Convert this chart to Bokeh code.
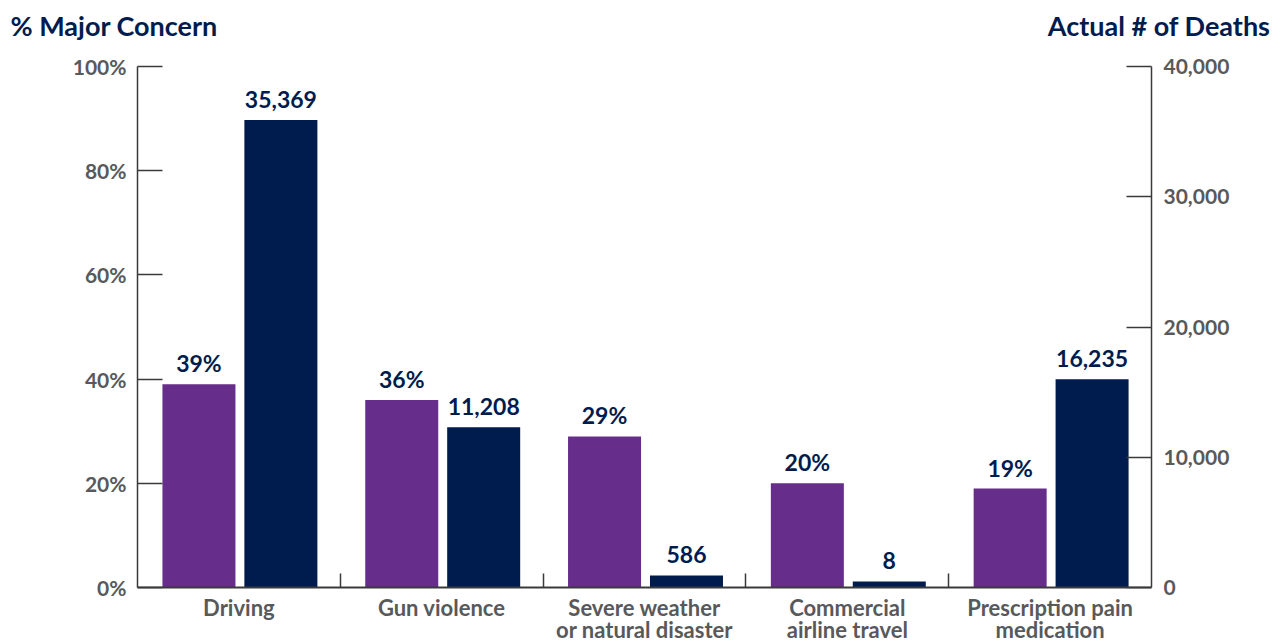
from bokeh.plotting import figure
from bokeh.models import (Range1d, LinearAxis, FixedTicker, PrintfTickFormatter,
                          NumeralTickFormatter, ColumnDataSource)
from bokeh.core.properties import value
from bokeh.embed import file_html
from bokeh.resources import INLINE

# ---- data ----
categories = ["Driving", "Gun violence", "Severe weather\nor natural disaster",
              "Commercial\nairline travel", "Prescription pain\nmedication"]
concern_pct = [39, 36, 29, 20, 19]
concern_labels = ["39%", "36%", "29%", "20%", "19%"]
deaths = [35369, 11208, 586, 8, 16235]
deaths_labels = ["35,369", "11,208", "586", "8", "16,235"]
# bar heights as drawn in the reference
deaths_bar_height = [35888, 12296, 922, 461, 15984]
pct_ticks = [0, 20, 40, 60, 80, 100]
death_ticks = [0, 10000, 20000, 30000, 40000]
titles = ["% Major Concern", "Actual # of Deaths"]

PURPLE = "#662D8A"
NAVY = "#001C4E"
GRAY = "#58595B"
AXIS = "#3A3A3A"
FONT = "Lato"

# ---- title strip ----
TH = 50
t = figure(width=1280, height=TH, x_range=Range1d(0, 1280), y_range=Range1d(0, TH),
           x_axis_type=None, y_axis_type=None, output_backend="svg",
           toolbar_location=None, min_border=0)
t.outline_line_color = None
t.xgrid.visible = False
t.ygrid.visible = False
tsrc = ColumnDataSource(dict(x=[10, 1270], y=[TH - 25, TH - 25], txt=titles,
                             align=["left", "right"]))
t.text(x="x", y="y", text="txt", source=tsrc, text_align="align",
       text_font=value(FONT), text_font_style="bold", text_font_size="27px",
       text_color=NAVY, text_baseline="middle")

# ---- main chart ----
n = len(categories)
centers = [i + 0.5 for i in range(n)]
x_purple = [c - 0.197 for c in centers]
x_navy = [c + 0.207 for c in centers]

p = figure(frame_width=1014, frame_height=521,
           x_range=Range1d(0, n), y_range=Range1d(0, 100),
           x_axis_type=None, y_axis_type=None,
           output_backend="svg", toolbar_location=None,
           min_border_left=137, min_border_right=129,
           min_border_top=66 - TH, min_border_bottom=54)
p.extra_y_ranges = {"deaths": Range1d(0, 40000)}
p.outline_line_color = None
p.xgrid.visible = False
p.ygrid.visible = False

src_p = ColumnDataSource(dict(x=x_purple, top=concern_pct, lab=concern_labels))
src_n = ColumnDataSource(dict(x=x_navy, top=deaths_bar_height, lab=deaths_labels))

p.vbar(x="x", top="top", bottom=0, width=0.36, source=src_p,
       fill_color=PURPLE, line_color=None)
p.vbar(x="x", top="top", bottom=0, width=0.36, source=src_n,
       fill_color=NAVY, line_color=None, y_range_name="deaths")

lab_kw = dict(text="lab", text_font=value(FONT), text_font_style="bold",
              text_font_size="23px", text_color=NAVY, text_align="center",
              text_baseline="middle", y_offset=-21)
p.text(x="x", y="top", source=src_p, **lab_kw)
p.text(x="x", y="top", source=src_n, y_range_name="deaths", **lab_kw)

def style_axis(ax, size):
    ax.major_label_text_font = FONT
    ax.major_label_text_font_style = "bold"
    ax.major_label_text_font_size = size
    ax.major_label_text_color = GRAY
    ax.axis_line_color = AXIS

# left axis
ly = LinearAxis(ticker=FixedTicker(ticks=pct_ticks),
                formatter=PrintfTickFormatter(format="%d%%"))
ly.major_tick_in = 25
ly.major_tick_out = 0
ly.minor_tick_line_color = None
ly.major_tick_line_color = AXIS
ly.major_tick_line_width = 1.5
ly.axis_line_width = 1.5
ly.major_label_standoff = 11
style_axis(ly, "21px")
p.add_layout(ly, "left")

# right axis
ry = LinearAxis(y_range_name="deaths", ticker=FixedTicker(ticks=death_ticks),
                formatter=NumeralTickFormatter(format="0,0"))
ry.major_tick_in = 25
ry.major_tick_out = 0
ry.minor_tick_line_color = None
ry.major_tick_line_color = AXIS
ry.major_tick_line_width = 1.5
ry.axis_line_width = 1.5
ry.major_label_standoff = 12
style_axis(ry, "21px")
p.add_layout(ry, "right")

# bottom axis
bx = LinearAxis(ticker=FixedTicker(ticks=centers, minor_ticks=list(range(1, n))))
bx.major_label_overrides = {c: lab for c, lab in zip(centers, categories)}
bx.major_tick_line_color = None
bx.major_tick_in = 0
bx.major_tick_out = 0
bx.minor_tick_in = 14
bx.minor_tick_out = 0
bx.minor_tick_line_color = AXIS
bx.minor_tick_line_width = 1.5
bx.axis_line_width = 2
bx.major_label_standoff = 6
bx.major_label_text_line_height = 0.85
style_axis(bx, "22px")
p.add_layout(bx, "below")

open("out.html", "w").write(file_html([t, p], INLINE))
